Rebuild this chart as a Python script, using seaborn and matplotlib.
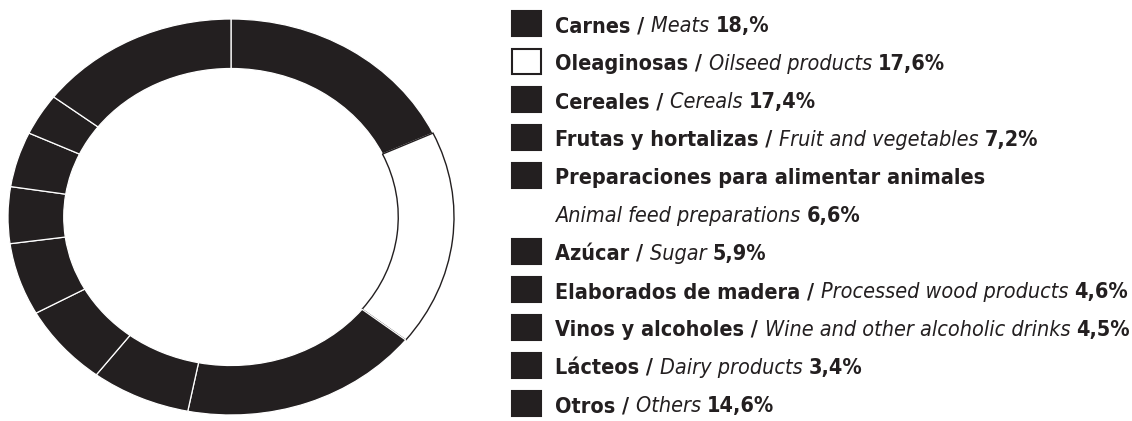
import matplotlib
matplotlib.use("Agg")
import matplotlib.pyplot as plt
from matplotlib.patches import Rectangle
import seaborn as sns

# ---- data ----
spanish = ["Carnes", "Oleaginosas", "Cereales", "Frutas y hortalizas",
           "Preparaciones para alimentar animales", "Azúcar",
           "Elaborados de madera", "Vinos y alcoholes", "Lácteos", "Otros"]
english = ["Meats", "Oilseed products", "Cereals", "Fruit and vegetables",
           "Animal feed preparations", "Sugar", "Processed wood products",
           "Wine and other alcoholic drinks", "Dairy products", "Others"]
values = [18.0, 17.6, 17.4, 7.2, 6.6, 5.9, 4.6, 4.5, 3.4, 14.6]
pct_labels = ["18,%", "17,6%", "17,4%", "7,2%", "6,6%", "5,9%", "4,6%",
              "4,5%", "3,4%", "14,6%"]

DARK = "#231f20"
colors = [DARK, "#ffffff"] + [DARK] * 8

sns.set_theme(style="white")
plt.rcParams["font.family"] = ["DejaVu Sans"]
plt.rcParams["font.stretch"] = "condensed"

W, H = 1132, 421
fig = plt.figure(figsize=(W / 100, H / 100), dpi=100)
fig.patch.set_facecolor("white")

# ---- donut ----
ax = fig.add_axes([8 / W, (H - 415) / H, 446 / W, 396 / H])
wedges, _ = ax.pie(values, startangle=90, counterclock=False, colors=colors,
                   radius=1.0,
                   wedgeprops=dict(width=0.25, edgecolor="white", linewidth=0.9))
wedges[1].set_edgecolor(DARK)
wedges[1].set_linewidth(1.0)
ax.set_xlim(-1.0, 1.0)
ax.set_ylim(-1.0, 1.0)
ax.set_aspect("auto")
ax.axis("off")

# ---- legend (pixel-like coordinates) ----
lax = fig.add_axes([0, 0, 1, 1])
lax.set_xlim(0, W)
lax.set_ylim(H, 0)
lax.axis("off")

renderer = fig.canvas.get_renderer()
inv = lax.transData.inverted()
FS = [18.0]


def put(x, y, s, **kw):
    t = lax.text(x, y, s, fontsize=FS[0], color=DARK, va="baseline", ha="left",
                 fontstretch="condensed", **kw)
    bb = t.get_window_extent(renderer)
    return t, inv.transform((bb.x1, bb.y0))[0]


# fit font size so the longest row spans like the reference (~573 px)
i_long = 7
tmp = []
t1, x = put(0, -100, spanish[i_long] + " / ", fontweight="bold"); tmp.append(t1)
t2, x = put(x, -100, english[i_long] + " ", style="italic"); tmp.append(t2)
t3, x = put(x, -100, pct_labels[i_long], fontweight="bold"); tmp.append(t3)
FS[0] = FS[0] * 573.0 / x
for t in tmp:
    t.remove()

x_box, box_w, box_h = 512, 29, 25
x_text = 555
line_h = 38
row = 0
for i, (sp, en, pc) in enumerate(zip(spanish, english, pct_labels)):
    yc = 24 + line_h * row
    lax.add_patch(Rectangle((x_box, yc - box_h / 2 - 1), box_w, box_h,
                            facecolor=colors[i], edgecolor=DARK, linewidth=1.5))
    base = yc + 8
    if i == 4:
        put(x_text, base, sp, fontweight="bold")
        row += 1
        base = 24 + line_h * row + 8
        _, x = put(x_text, base, en + " ", style="italic")
        put(x, base, pc, fontweight="bold")
    else:
        _, x = put(x_text, base, sp + " / ", fontweight="bold")
        _, x = put(x, base, en + " ", style="italic")
        put(x, base, pc, fontweight="bold")
    row += 1

fig.savefig("out.png", dpi=100, facecolor="white")
